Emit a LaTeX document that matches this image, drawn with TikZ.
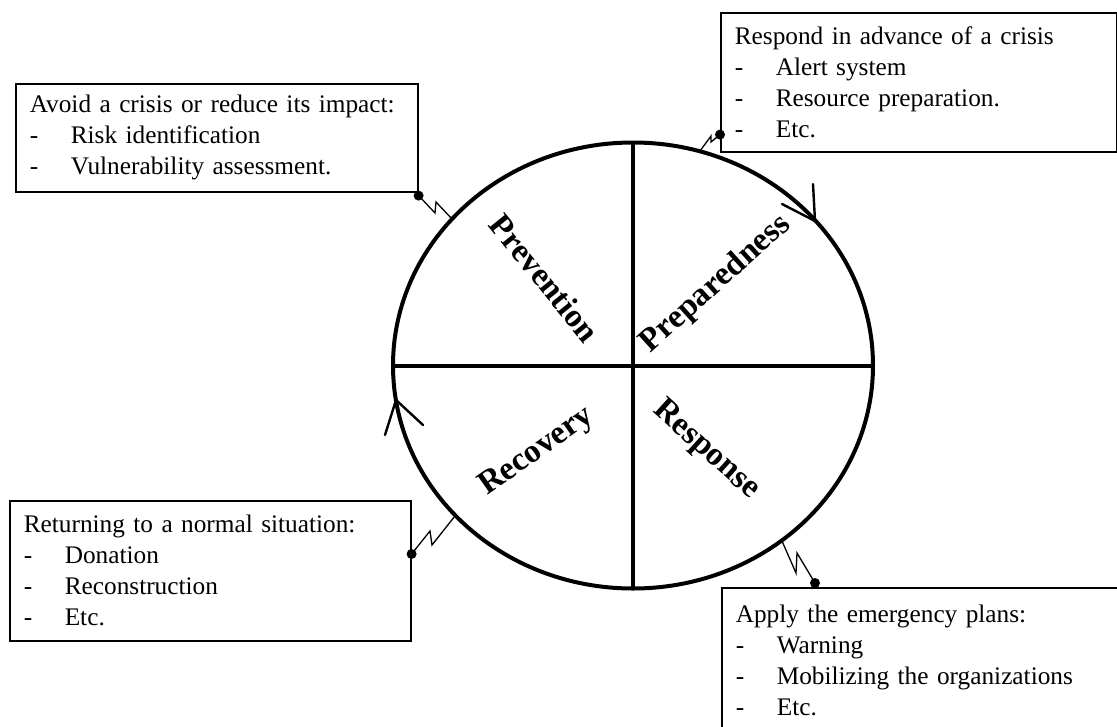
\documentclass[tikz,border=0pt]{standalone}
\usepackage{fontspec}
\setmainfont{Liberation Serif}
\usetikzlibrary{shapes.geometric,calc}
\begin{document}
\begin{tikzpicture}[x=1pt,y=-1pt,
  box/.style={draw, line width=1.6pt, anchor=north west, align=left, inner xsep=14pt, inner ysep=0pt, font=\fontsize{25.3}{31}\selectfont},
  phase/.style={font=\fontsize{33}{38}\selectfont\bfseries, inner sep=0pt},
  zz/.style={line width=1.3pt, line join=miter},
  tick/.style={line width=2.4pt, line cap=round},
  dot/.style={circle, fill, inner sep=0pt, minimum size=10pt}]
\useasboundingbox (0,0) rectangle (1117,726);
\clip (0,0) rectangle (1117,726);
\newcommand{\itm}[1]{\mbox{\makebox[41pt][l]{-}#1}}
% wheel
\node[draw, ellipse, line width=4pt, outer sep=0pt, inner sep=0pt, minimum width=480pt, minimum height=446pt] (circ) at (633,365.5) {};
\draw[line width=4pt] (circ.north) -- (circ.south);
\draw[line width=4pt] (circ.west) -- (circ.east);
% phase labels
\node[phase, rotate=-51] (prev) at (545,278) {Prevention};
\node[phase, rotate=42] (prep) at (716,284) {Preparedness};
\node[phase, rotate=-42] (resp) at (706,450) {Response};
\node[phase, rotate=35] (reco) at (537,452) {Recovery};
% arrow ticks on the wheel
\coordinate (aTR) at (815,221);
\coordinate (aL) at (396,400);
\draw[tick] (813,184) -- (aTR) -- (782,204);
\draw[tick] (385,435) -- (aL) -- (423,425);
% boxes
\node[box, text width=374pt, minimum height=108pt] (tl) at (15,83)
  {\mbox{Avoid a crisis or reduce its impact:}\\\itm{Risk identification}\\\itm{Vulnerability assessment.}};
\node[box, text width=368pt, minimum height=139pt] (tr) at (720,12)
  {\mbox{Respond in advance of a crisis}\\\itm{Alert system}\\\itm{Resource preparation.}\\\itm{Etc.}};
\node[box, text width=373pt, minimum height=140pt] (bl) at (9,500)
  {\mbox{Returning to a normal situation:}\\\itm{Donation}\\\itm{Reconstruction}\\\itm{Etc.}};
\node[box, text width=368pt, minimum height=145pt] (br) at (721,587)
  {\mbox{Apply the emergency plans:}\\\itm{Warning}\\\itm{Mobilizing the organizations}\\\itm{Etc.}};
% dots
\node[dot] (dTL) at ($(tl.south east)+(0,3)$) {};
\node[dot] (dTR) at ($(tr.south west)+(0,-18)$) {};
\node[dot] (dBL) at ($(bl.north east)+(0,54)$) {};
\node[dot] (dBR) at ($(br.north west)+(94,-4)$) {};
% circle contact points
\coordinate (cTL) at (452,219);
\coordinate (cTR) at (700,151);
\coordinate (cBL) at (455,516);
\coordinate (cBR) at (782,541);
% zigzag connectors
\draw[zz] (dTL.center) -- (435,213) -- (436,202) -- (cTL);
\draw[zz] (dTR.center) -- (711,142) -- (711,136) -- (cTR);
\draw[zz] (dBL.center) -- (430,531) -- (432,545) -- (cBL);
\draw[zz] (cBR) -- (796,573) -- (797,553) -- (dBR.center);
\end{tikzpicture}
\end{document}
